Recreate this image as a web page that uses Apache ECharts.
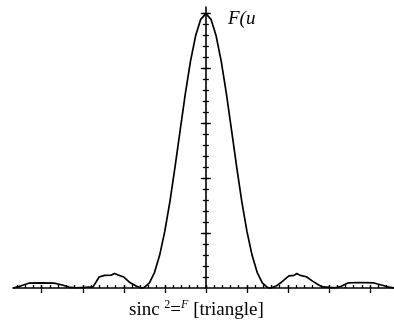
<!DOCTYPE html>
<html>
<head>
<meta charset="utf-8">
<script src="https://cdn.jsdelivr.net/npm/echarts@6/dist/echarts.min.js"></script>
<style>
html, body { margin: 0; padding: 0; background: #fff; }
#c { width: 394px; height: 327px; }
</style>
</head>
<body>
<div id="c"></div>
<script>
// Sample positions along u and the plotted sinc^2 intensity at each one
const uValues = [
  -9.4, -9.0, -8.6, -8.0, -7.4, -7.0, -6.6, -6.3, -5.9, -5.5,
  -5.2, -4.95, -4.6, -4.45, -4.3, -4.0, -3.7, -3.4, -3.14, -3.0,
  -2.75, -2.5, -2.25, -2.0, -1.75, -1.5, -1.25, -1.0, -0.75, -0.5,
  -0.25, 0, 0.25, 0.5, 0.75, 1.0, 1.25, 1.5, 1.75, 2.0,
  2.25, 2.5, 2.75, 3.0, 3.14, 3.4, 3.7, 4.05, 4.3, 4.43,
  4.6, 4.9, 5.2, 5.5, 5.7, 6.05, 6.3, 6.6, 6.95, 7.5,
  8.15, 8.6, 9.0, 9.2
];
const intensity = [
  0.0, 0.008, 0.018, 0.019, 0.018, 0.011, 0.002, 0.001, 0.002, 0.004,
  0.040, 0.046, 0.047, 0.053, 0.048, 0.040, 0.020, 0.007, 0.0, 0.002,
  0.019, 0.057, 0.120, 0.207, 0.316, 0.442, 0.576, 0.708, 0.826, 0.919,
  0.979, 1.0, 0.979, 0.919, 0.826, 0.708, 0.576, 0.442, 0.316, 0.207,
  0.120, 0.057, 0.019, 0.002, 0.0, 0.006, 0.022, 0.044, 0.046, 0.053,
  0.046, 0.041, 0.025, 0.011, 0.004, 0.002, 0.001, 0.006, 0.019, 0.020,
  0.019, 0.010, 0.002, 0.0
];

// Axis tick positions
const uMajorTicks = [-8, -6, -4, -2, 0, 2, 4, 6, 8];
const yMajorTicks = [0.2, 0.4, 0.6, 0.8, 1.0];
const uMinorTicks = [];
for (let k = -23; k <= 22; k++) uMinorTicks.push(+(k * 0.4).toFixed(2));
const yMinorTicks = [];
for (let k = 1; k <= 25; k++) yMinorTicks.push(+(k * 0.04).toFixed(2));

const U_MIN = -9.4, U_MAX = 9.17;
const Y_MIN = 0, Y_MAX = 1.024;

const serif = '"Liberation Serif", "DejaVu Serif", serif';

// Each axis crosses the other direction's first axis at zero
function xAxisDef(ticks, inside, len, showLine) {
  return {
    type: 'value', min: U_MIN, max: U_MAX, position: 'bottom',
    axisLine: { show: showLine, onZero: true, onZeroAxisIndex: 0,
                lineStyle: { color: '#000', width: 1.6 } },
    axisTick: { show: true, inside: inside, length: len, customValues: ticks,
                lineStyle: { color: '#000', width: 1.3 } },
    axisLabel: { show: false },
    splitLine: { show: false }
  };
}
function yAxisDef(ticks, inside, len, showLine) {
  return {
    type: 'value', min: Y_MIN, max: Y_MAX, position: 'left',
    axisLine: { show: showLine, onZero: true, onZeroAxisIndex: 0,
                lineStyle: { color: '#000', width: 1.6 } },
    axisTick: { show: true, inside: inside, length: len, customValues: ticks,
                lineStyle: { color: '#000', width: 1.3 } },
    axisLabel: { show: false },
    splitLine: { show: false }
  };
}

const chart = echarts.init(document.getElementById('c'), null, { renderer: 'canvas' });
chart.setOption({
  animation: false,
  backgroundColor: '#fff',
  grid: { left: 13, right: 0, top: 7, bottom: 39, containLabel: false },
  xAxis: [
    xAxisDef(uMajorTicks, false, 5, true),
    xAxisDef(uMajorTicks, true, 3, false),
    xAxisDef(uMinorTicks, true, 3, false)
  ],
  yAxis: [
    yAxisDef(yMajorTicks, false, 5, true),
    yAxisDef(yMajorTicks, true, 5, false),
    yAxisDef(yMinorTicks, false, 3, false),
    yAxisDef(yMinorTicks, true, 3, false)
  ],
  series: [{
    type: 'line',
    xAxisIndex: 0,
    yAxisIndex: 0,
    data: uValues.map((u, i) => [u, intensity[i]]),
    showSymbol: false,
    smooth: false,
    clip: false,
    lineStyle: { color: '#000', width: 1.7 }
  }],
  graphic: [
    {
      type: 'text', left: 228, top: 9,
      style: { text: 'F(u', font: 'italic 19px ' + serif, fill: '#000' }
    },
    {
      type: 'text', left: 129, top: 299,
      style: {
        text: '{a|sinc }{s|2}{a|=}{f|F}{a| [triangle]}',
        fill: '#000',
        rich: {
          a: { fontFamily: serif, fontSize: 19, verticalAlign: 'bottom', lineHeight: 21 },
          s: { fontFamily: serif, fontSize: 12, verticalAlign: 'top', lineHeight: 21 },
          f: { fontFamily: serif, fontSize: 12, fontStyle: 'italic', verticalAlign: 'top', lineHeight: 21 }
        }
      }
    }
  ]
});
</script>
</body>
</html>
